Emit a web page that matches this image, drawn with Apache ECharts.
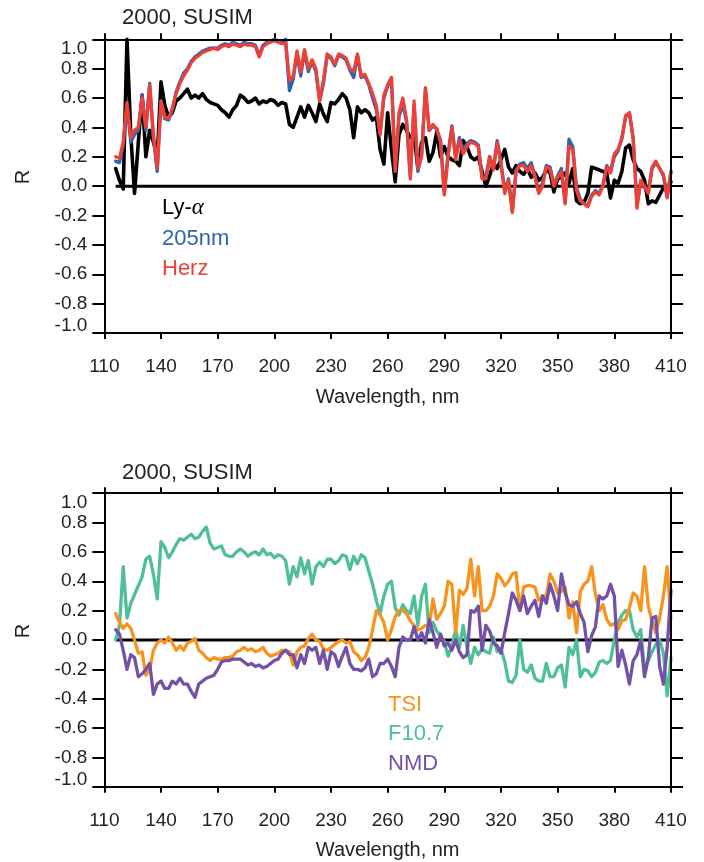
<!DOCTYPE html>
<html>
<head>
<meta charset="utf-8">
<script src="https://cdn.jsdelivr.net/npm/echarts@6/dist/echarts.min.js"></script>
<style>
html, body { margin: 0; padding: 0; background: #ffffff; }
#chart { width: 704px; height: 862px; }
</style>
</head>
<body>
<div id="chart"></div>
<script>
// Wavelength sampling grid (nm), 2 nm steps from 116 to 410
const wavelength = [];
for (let w = 116; w <= 410; w += 2) wavelength.push(w);

const xTicks = [110, 140, 170, 200, 230, 260, 290, 320, 350, 380, 410];
const yTicks = [-1.0, -0.8, -0.6, -0.4, -0.2, 0.0, 0.2, 0.4, 0.6, 0.8, 1.0];

// Correlation R with Lyman-alpha
const lyAlpha = [
  0.12, 0.04, -0.02, 1.0, 0.35, -0.05, 0.3, 0.62, 0.2, 0.38,
  0.3, 0.2, 0.71, 0.55, 0.47, 0.5, 0.58, 0.6, 0.63, 0.66,
  0.6, 0.62, 0.6, 0.63, 0.59, 0.57, 0.56, 0.55, 0.52, 0.5,
  0.47, 0.52, 0.55, 0.62, 0.6, 0.57, 0.58, 0.6, 0.56, 0.58,
  0.57, 0.59, 0.58, 0.55, 0.57, 0.56, 0.42, 0.4, 0.47, 0.54,
  0.47, 0.55, 0.5, 0.44, 0.56, 0.49, 0.44, 0.57, 0.56, 0.59,
  0.63, 0.6, 0.52, 0.33, 0.54, 0.5, 0.52, 0.5, 0.45, 0.47,
  0.25, 0.15, 0.5, 0.25, 0.03, 0.35, 0.42, 0.38, 0.33, 0.35,
  0.12, 0.3, 0.33, 0.17, 0.23, 0.37, 0.2, 0.27, 0.2, 0.18,
  0.17, 0.14, 0.31, 0.27, 0.2, 0.18, 0.2, 0.1, 0.0, 0.07,
  0.16, 0.12, 0.18, 0.25, 0.13, 0.09, 0.14, 0.1, 0.08, 0.12,
  0.06, 0.09, 0.04, 0.06, 0.11, 0.09, -0.04, 0.05, 0.06, 0.09,
  0.02, 0.12, -0.1, -0.12, -0.11, -0.05, 0.13, 0.12, 0.11, 0.1,
  0.09, -0.08, 0.04, 0.02, 0.1, 0.26, 0.28, 0.18, 0.12, 0.1,
  0.04, -0.12, -0.1, -0.11, -0.06, -0.01, -0.03, 0.03
];

// Correlation R with 205 nm flux
const nm205 = [
  0.17, 0.16, 0.28, 0.55, 0.3, 0.35, 0.38, 0.62, 0.38, 0.7,
  0.33, 0.1, 0.58, 0.46, 0.45, 0.52, 0.64, 0.71, 0.77, 0.8,
  0.85, 0.88, 0.9, 0.92, 0.93, 0.94, 0.94, 0.94, 0.96, 0.97,
  0.96, 0.98, 0.97, 0.96, 0.98, 0.97, 0.97, 0.96, 0.89, 0.96,
  0.98, 0.99, 1.0, 0.99, 0.98, 1.0, 0.65, 0.73, 0.9, 0.75,
  0.92, 0.78, 0.85, 0.78, 0.58, 0.7, 0.89, 0.87, 0.82, 0.89,
  0.88, 0.86, 0.79, 0.74, 0.89, 0.74, 0.75, 0.69, 0.6, 0.52,
  0.36, 0.6, 0.68, 0.74, 0.12, 0.47, 0.56, 0.44, 0.07, 0.55,
  0.1, 0.22, 0.66, 0.38, 0.41, 0.39, 0.31, -0.04, 0.22, 0.41,
  0.2, 0.33, 0.25, 0.29, 0.31, 0.3, 0.28, 0.06, 0.06, 0.2,
  0.12, 0.31, 0.16, -0.03, 0.05, -0.17, 0.11, 0.15, 0.16, 0.12,
  0.16, 0.07, -0.04, 0.02, 0.14, 0.13, 0.01, 0.07, 0.12, -0.11,
  0.32, 0.27, -0.01, -0.09, -0.12, -0.13, -0.06, -0.03, -0.05, 0.01,
  0.14, 0.1, 0.2, 0.24, 0.33, 0.47, 0.5, 0.33, -0.12, 0.02,
  -0.01, -0.04, 0.12, 0.16, 0.12, 0.07, -0.07, 0.1
];

// Correlation R with the Herzberg continuum
const herz = [
  0.2, 0.19, 0.3, 0.57, 0.33, 0.38, 0.4, 0.6, 0.4, 0.69,
  0.35, 0.12, 0.58, 0.47, 0.46, 0.53, 0.63, 0.7, 0.75, 0.79,
  0.84, 0.87, 0.89, 0.91, 0.92, 0.93, 0.94, 0.93, 0.95, 0.96,
  0.95, 0.97, 0.96, 0.95, 0.97, 0.96, 0.96, 0.95, 0.88, 0.95,
  0.97, 0.98, 0.99, 0.98, 0.97, 0.97, 0.72, 0.75, 0.92, 0.78,
  0.93, 0.8, 0.86, 0.8, 0.58, 0.72, 0.9, 0.88, 0.83, 0.9,
  0.89, 0.87, 0.8, 0.78, 0.9, 0.75, 0.76, 0.7, 0.63, 0.55,
  0.35, 0.62, 0.69, 0.74, 0.1, 0.5, 0.6, 0.45, 0.05, 0.58,
  0.12, 0.2, 0.67, 0.38, 0.42, 0.39, 0.3, -0.06, 0.2, 0.4,
  0.18, 0.31, 0.22, 0.27, 0.3, 0.29, 0.27, 0.05, 0.05, 0.2,
  0.11, 0.3, 0.15, -0.05, 0.04, -0.18, 0.1, 0.14, 0.14, 0.1,
  0.14, 0.06, -0.05, 0.0, 0.13, 0.12, 0.0, 0.06, 0.1, -0.12,
  0.27, 0.25, -0.03, -0.1, -0.12, -0.14, -0.07, -0.04, -0.06, 0.0,
  0.13, 0.09, 0.22, 0.25, 0.32, 0.48, 0.5, 0.32, -0.15, 0.04,
  0.0, -0.05, 0.13, 0.17, 0.12, 0.08, -0.08, 0.1
];

// Correlation R with total solar irradiance
const tsi = [
  0.18, 0.12, 0.08, 0.11, 0.08, 0.0, -0.09, -0.08, -0.24, -0.2,
  -0.07, -0.02, 0.0, -0.02, 0.02, -0.02, -0.07, -0.04, -0.07, -0.02,
  -0.01, 0.01, -0.07, -0.09, -0.12, -0.14, -0.12, -0.13, -0.13, -0.12,
  -0.12, -0.11, -0.08, -0.07, -0.05, -0.07, -0.06, -0.08, -0.07, -0.05,
  -0.09, -0.11, -0.1, -0.09, -0.07, -0.07, -0.08, -0.17, -0.08, -0.05,
  -0.04, 0.01, 0.04, 0.0, -0.01, -0.06, -0.07, -0.05, -0.03, -0.01,
  0.0, -0.02, -0.01, -0.08, -0.1, -0.14, -0.12, -0.05, 0.07, 0.2,
  0.17, 0.12, 0.0, 0.07, 0.16, 0.2, 0.2, 0.18, 0.13, 0.1,
  0.07, 0.08, 0.1, 0.1, 0.28, 0.14, 0.18, 0.23, 0.4, 0.38,
  0.05, 0.34, 0.31, 0.35, 0.55, 0.3, 0.5, 0.2, 0.2, 0.23,
  0.3, 0.45, 0.42, 0.37, 0.4, 0.45, 0.46, 0.2, 0.36, 0.37,
  0.37, 0.36, 0.27, 0.3, 0.3, 0.45, 0.4, 0.32, 0.33, 0.36,
  0.15, 0.26, 0.05, 0.33, 0.38, 0.4, 0.5, 0.31, 0.2, 0.24,
  0.14, 0.1, 0.11, 0.07, 0.13, 0.14, 0.22, 0.32, 0.3, 0.2,
  0.5, 0.23, 0.13, 0.05, 0.15, 0.3, 0.5, 0.14
];

// Correlation R with the F10.7 radio flux
const f107 = [
  0.0, 0.1, 0.5, 0.15, 0.25, 0.31, 0.37, 0.43, 0.55, 0.57,
  0.45, 0.28, 0.67, 0.63, 0.56, 0.6, 0.65, 0.69, 0.68, 0.7,
  0.72, 0.69, 0.7, 0.74, 0.77, 0.66, 0.62, 0.63, 0.64, 0.58,
  0.57, 0.57, 0.6, 0.62, 0.6, 0.57, 0.59, 0.6, 0.58, 0.62,
  0.58, 0.59, 0.56, 0.58, 0.57, 0.54, 0.38, 0.5, 0.43, 0.56,
  0.45, 0.54, 0.38, 0.5, 0.53, 0.5, 0.55, 0.55, 0.52, 0.54,
  0.58, 0.57, 0.48, 0.57, 0.52, 0.58, 0.56, 0.47, 0.38, 0.27,
  0.18, 0.3, 0.38, 0.4, 0.22, 0.17, 0.24, 0.2, 0.18, 0.3,
  0.1, 0.3, 0.38, 0.05, 0.12, 0.06, 0.03, -0.01, -0.11, -0.04,
  0.07, -0.05, 0.1, -0.05, -0.16, -0.05, -0.1, -0.06, -0.08, -0.09,
  0.02, -0.08, -0.06, -0.15, -0.28, -0.29, -0.24, 0.0, -0.2, -0.22,
  -0.17, -0.26, -0.28, -0.28, -0.16, -0.25, -0.25, -0.19, -0.17, -0.32,
  -0.05, -0.1, 0.0, -0.25, -0.2, -0.21, -0.25, -0.22, -0.15, -0.14,
  -0.16, -0.14, 0.0, 0.12, 0.17, 0.2, 0.2, 0.07, 0.02, 0.07,
  -0.2, -0.14, -0.08, -0.03, 0.0, -0.09, -0.38, -0.12
];

// Correlation R with the NMD sunspot index
const nmd = [
  0.07, 0.04, -0.07, -0.2, -0.1, -0.12, -0.25, -0.23, -0.2, -0.16,
  -0.37, -0.3, -0.28, -0.33, -0.33, -0.28, -0.3, -0.26, -0.3, -0.3,
  -0.35, -0.39, -0.3, -0.28, -0.26, -0.25, -0.24, -0.2, -0.15, -0.14,
  -0.14, -0.13, -0.13, -0.13, -0.15, -0.17, -0.16, -0.18, -0.17, -0.19,
  -0.18, -0.16, -0.14, -0.13, -0.09, -0.07, -0.1, -0.1, -0.19, -0.1,
  -0.16, -0.05, -0.07, -0.05, -0.16, -0.07, -0.2, -0.08, -0.1, -0.18,
  -0.11, -0.05, -0.16, -0.2, -0.2, -0.21, -0.19, -0.13, -0.25, -0.23,
  -0.16, -0.16, -0.13, -0.18, -0.25, -0.05, 0.02, 0.0, 0.0, 0.09,
  0.0, 0.05, -0.02, 0.14, 0.05, -0.05, 0.04, -0.04, -0.02, -0.07,
  0.0, -0.08, -0.12, -0.1, 0.2, 0.19, 0.23, -0.07, 0.1, 0.06,
  -0.02, -0.04, -0.09, 0.05, 0.18, 0.32, 0.27, 0.2, 0.3, 0.18,
  0.23, 0.27, 0.16, 0.3, 0.25, 0.38, 0.3, 0.2, 0.45, 0.32,
  0.24, 0.23, 0.26, 0.18, 0.12, -0.08, 0.03, 0.09, 0.3, 0.28,
  0.3, 0.38, 0.3, -0.18, -0.07, -0.17, -0.3, -0.14, -0.1, 0.0,
  -0.25, -0.12, 0.15, 0.16, -0.18, -0.3, -0.05, 0.34
];

const FONT = '"Liberation Sans", Arial, Helvetica, sans-serif';
const INK = '#222222';

const panels = [
  {
    gridTop: 34.9, gridBottom: 524.6, titleTop: 7,
    legendLeft: 157, legendTop: 196.5, legendGap: 8,
    lines: [
      { name: 'Ly-α', values: lyAlpha, color: '#000000', width: 3.6 },
      { name: '205nm', values: nm205, color: '#2f63b3', width: 3.3 },
      { name: 'Herz', values: herz, color: '#ee4036', width: 3.3 }
    ],
    legendOrder: ['Ly-α', '205nm', 'Herz']
  },
  {
    gridTop: 488.75, gridBottom: 70.75, titleTop: 461.5,
    legendLeft: 383, legendTop: 694, legendGap: 7.4,
    lines: [
      { name: 'F10.7', values: f107, color: '#4fbf97', width: 3.3 },
      { name: 'TSI', values: tsi, color: '#f7941f', width: 3.3 },
      { name: 'NMD', values: nmd, color: '#7351a6', width: 3.3 }
    ],
    legendOrder: ['TSI', 'F10.7', 'NMD']
  }
];

const pair = (vals) => wavelength.map((w, i) => [w, vals[i]]);
const tickStyle = { color: '#000000', width: 2 };

// the lowest R label sits a little higher, just inside the frame
const rLabel = (v) => {
  const s = Number(v).toFixed(1);
  return v === yTicks[0] ? '{lo|' + s + '}' : s;
};

const grid = [], xAxis = [], yAxis = [], series = [], legend = [], title = [];

panels.forEach((p, k) => {
  grid.push({ left: 93, right: 21.7, top: p.gridTop, bottom: p.gridBottom, containLabel: false });

  // bottom axis with labels, top axis with ticks only
  xAxis.push({
    gridIndex: k, type: 'value', min: 104, max: 416, position: 'bottom', offset: -4.4,
    axisLine: { show: false, onZero: false }, splitLine: { show: false },
    axisTick: { show: true, customValues: xTicks, length: 6, lineStyle: tickStyle },
    axisLabel: {
      customValues: xTicks, margin: 24, fontSize: 19, lineHeight: 19, color: INK, fontFamily: FONT,
      showMinLabel: true, showMaxLabel: true, hideOverlap: false
    },
    name: 'Wavelength, nm', nameLocation: 'middle', nameGap: 54,
    nameTextStyle: { fontSize: 20, lineHeight: 20, color: INK, fontFamily: FONT }
  });
  xAxis.push({
    gridIndex: k, type: 'value', min: 104, max: 416, position: 'top', offset: -4.4,
    axisLine: { show: false, onZero: false }, splitLine: { show: false },
    axisTick: { show: true, customValues: xTicks, length: 6, lineStyle: tickStyle },
    axisLabel: { show: false }
  });

  // left axis with labels, right axis with ticks only
  yAxis.push({
    gridIndex: k, type: 'value', min: -1.03, max: 1.03, position: 'left', offset: -11.3,
    axisLine: { show: false, onZero: false }, splitLine: { show: false },
    axisTick: { show: true, customValues: yTicks, length: 12, lineStyle: tickStyle },
    axisLabel: {
      customValues: yTicks, margin: 17, fontSize: 19, lineHeight: 19, color: INK, fontFamily: FONT,
      formatter: rLabel, showMinLabel: true, showMaxLabel: true, hideOverlap: false,
      verticalAlignMinLabel: 'bottom', verticalAlignMaxLabel: 'top',
      rich: { lo: { fontSize: 19, lineHeight: 14, color: INK, fontFamily: FONT } }
    },
    name: 'R', nameLocation: 'middle', nameGap: 71,
    nameTextStyle: { fontSize: 20, lineHeight: 20, color: INK, fontFamily: FONT, padding: [0, 0, 0, 18] }
  });
  yAxis.push({
    gridIndex: k, type: 'value', min: -1.03, max: 1.03, position: 'right', offset: -11.3,
    axisLine: { show: false, onZero: false }, splitLine: { show: false },
    axisTick: { show: true, customValues: yTicks, length: 12, lineStyle: tickStyle },
    axisLabel: { show: false }
  });

  // zero reference line plus the plot frame
  series.push({
    type: 'line', name: 'zero' + k, xAxisIndex: 2 * k, yAxisIndex: 2 * k,
    data: [[wavelength[0], 0], [wavelength[wavelength.length - 1], 0]],
    showSymbol: false, symbol: 'none', silent: true, z: 1,
    lineStyle: { color: '#000000', width: 3 },
    markLine: {
      silent: true, symbol: ['none', 'none'], label: { show: false },
      lineStyle: { color: '#000000', width: 2, type: 'solid' },
      emphasis: { disabled: true },
      data: [
        { yAxis: yTicks[yTicks.length - 1] },
        { yAxis: yTicks[0] },
        { xAxis: xTicks[0] },
        { xAxis: xTicks[xTicks.length - 1] }
      ]
    }
  });

  p.lines.forEach((s, j) => {
    series.push({
      type: 'line', name: s.name, xAxisIndex: 2 * k, yAxisIndex: 2 * k,
      data: pair(s.values), showSymbol: false, symbol: 'none', silent: true, z: 2 + j,
      itemStyle: { color: s.color },
      lineStyle: { color: s.color, width: s.width, join: 'round', cap: 'round' }
    });
  });

  const colorOf = {};
  p.lines.forEach((s) => { colorOf[s.name] = s.color; });
  legend.push({
    left: p.legendLeft, top: p.legendTop, orient: 'vertical', padding: 0,
    itemGap: p.legendGap, itemWidth: 0, itemHeight: 22, icon: 'none', selectedMode: false,
    data: p.legendOrder.map((n) => ({ name: n, textStyle: { color: colorOf[n] } })),
    formatter: (n) => (n === 'Ly-α' ? 'Ly-{i|α}' : n),
    textStyle: {
      fontSize: 22, lineHeight: 22, fontFamily: FONT,
      rich: { i: { fontStyle: 'italic', fontFamily: '"Liberation Serif", "DejaVu Serif", serif', fontSize: 23, lineHeight: 22, color: '#000000' } }
    }
  });

  title.push({
    text: '2000, SUSIM', left: 122, top: p.titleTop, padding: 0,
    textStyle: { fontSize: 22, lineHeight: 22, fontWeight: 'normal', color: INK, fontFamily: FONT }
  });
});

const chart = echarts.init(document.getElementById('chart'), null, { renderer: 'canvas' });
chart.setOption({
  animation: false,
  backgroundColor: '#ffffff',
  title, grid, xAxis, yAxis, legend, series
});
</script>
</body>
</html>
